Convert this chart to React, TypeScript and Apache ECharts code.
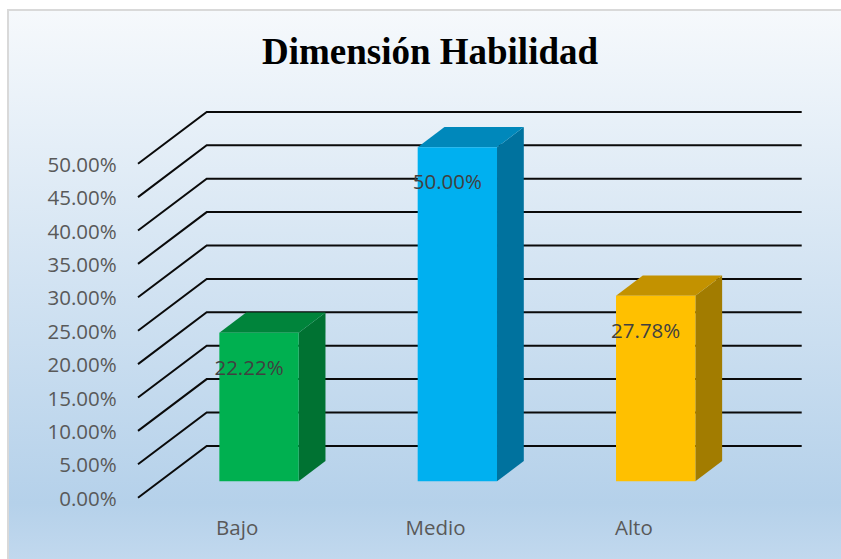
import React, { useEffect, useRef } from "react";
import * as echarts from "echarts";

const categories = ["Bajo", "Medio", "Alto"];
const values = [0.2222, 0.5, 0.2778];
const tickValues = [0, 0.05, 0.1, 0.15, 0.2, 0.25, 0.3, 0.35, 0.4, 0.45, 0.5];
const titleText = "Dimensión Habilidad";

const frontColors = ["#00b050", "#00b0f0", "#ffc000"];
const topColors = ["#00843b", "#0088bb", "#c39200"];
const sideColors = ["#007232", "#00729e", "#a27c00"];

// 3D depth offsets (pixels)
const DX = 68.7;
const DY = -51.8;
const FRONT_F = 0.318;
const DEPTH_F = 0.39;

const pct = (v: number) => (v * 100).toFixed(2) + "%";

export default function App() {
  const ref = useRef<HTMLDivElement>(null);
  useEffect(() => {
    if (!ref.current) return;
    const chart = echarts.init(ref.current, null, { renderer: "svg" });
    const font = "Open Sans";
    const option: any = {
      animation: false,
      graphic: [
        {
          type: "rect",
          z: -100,
          silent: true,
          shape: { x: 8, y: 10, width: 860, height: 580 },
          style: {
            fill: new echarts.graphic.LinearGradient(0, 0, 0, 1, [
              { offset: 0, color: "#f6f9fc" },
              { offset: 0.85, color: "#b5d1ea" },
              { offset: 1, color: "#c8dcf0" },
            ]),
            stroke: "#d9d9d9",
            lineWidth: 2,
          },
        },
        {
          type: "text",
          z: 10,
          x: 430,
          y: 51.5,
          style: {
            text: titleText,
            fontFamily: "Liberation Serif",
            fontWeight: "bold",
            fontSize: 37,
            fill: "#000000",
            align: "center",
            verticalAlign: "middle",
          },
        },
      ],
      grid: { left: 138, right: 108, top: 163.7, bottom: 61.3 },
      xAxis: {
        type: "category",
        data: categories,
        axisLine: { show: false },
        axisTick: { show: false },
        axisLabel: {
          margin: 17.3,
          lineHeight: 24,
          fontFamily: font,
          fontSize: 20.5,
          color: "#595959",
        },
      },
      yAxis: {
        type: "value",
        min: 0,
        max: 0.5,
        interval: 0.05,
        axisLine: { show: false },
        axisTick: { show: false },
        splitLine: { show: false },
        axisLabel: {
          margin: 21.3,
          fontFamily: font,
          fontSize: 20.5,
          color: "#595959",
          formatter: (v: number) => pct(v),
        },
      },
      series: [
        {
          type: "custom",
          z: 2,
          silent: true,
          data: tickValues.map((v) => [0, v]),
          encode: { x: 0, y: 1 },
          renderItem: (params: any, api: any) => {
            const cs = params.coordSys;
            const y = api.coord([0, api.value(1)])[1];
            const x0 = cs.x;
            const x1 = cs.x + cs.width;
            return {
              type: "polyline",
              shape: {
                points: [
                  [x0, y],
                  [x0 + DX, y + DY],
                  [x1 + DX, y + DY],
                ],
              },
              style: { stroke: "#0a0a0a", lineWidth: 2, fill: "none" },
            };
          },
        },
        {
          type: "custom",
          z: 3,
          silent: true,
          data: values.map((v, i) => [i, v]),
          encode: { x: 0, y: 1 },
          renderItem: (params: any, api: any) => {
            const i = api.value(0);
            const v = api.value(1);
            const base = api.coord([i, 0]);
            const top = api.coord([i, v]);
            const band = api.size([1, 0])[0];
            const w = band * 0.4;
            const fx = FRONT_F * DX;
            const fy = FRONT_F * DY;
            const dx = DEPTH_F * DX;
            const dy = DEPTH_F * DY;
            const left = base[0] - w / 2 + fx;
            const right = left + w;
            const bottomY = base[1] + fy;
            const topY = top[1] + fy;
            return {
              type: "group",
              children: [
                {
                  type: "polygon",
                  shape: {
                    points: [
                      [right, topY],
                      [right, bottomY],
                      [right + dx, bottomY + dy],
                      [right + dx, topY + dy],
                    ],
                  },
                  style: { fill: sideColors[i] },
                },
                {
                  type: "polygon",
                  shape: {
                    points: [
                      [left, topY],
                      [right, topY],
                      [right + dx, topY + dy],
                      [left + dx, topY + dy],
                    ],
                  },
                  style: { fill: topColors[i] },
                },
                {
                  type: "rect",
                  shape: { x: left, y: topY, width: w, height: bottomY - topY },
                  style: { fill: frontColors[i] },
                },
                {
                  type: "text",
                  x: (left + right) / 2 - 10,
                  y: topY + 34,
                  style: {
                    text: pct(v),
                    fontFamily: font,
                    fontSize: 20.5,
                    fill: "#404040",
                    align: "center",
                    verticalAlign: "middle",
                  },
                },
              ],
            };
          },
        },
      ],
    };
    chart.setOption(option);
    return () => chart.dispose();
  }, []);
  return (
    <div
      ref={ref}
      style={{ position: "absolute", left: 0, top: 0, width: 841, height: 559 }}
    />
  );
}
